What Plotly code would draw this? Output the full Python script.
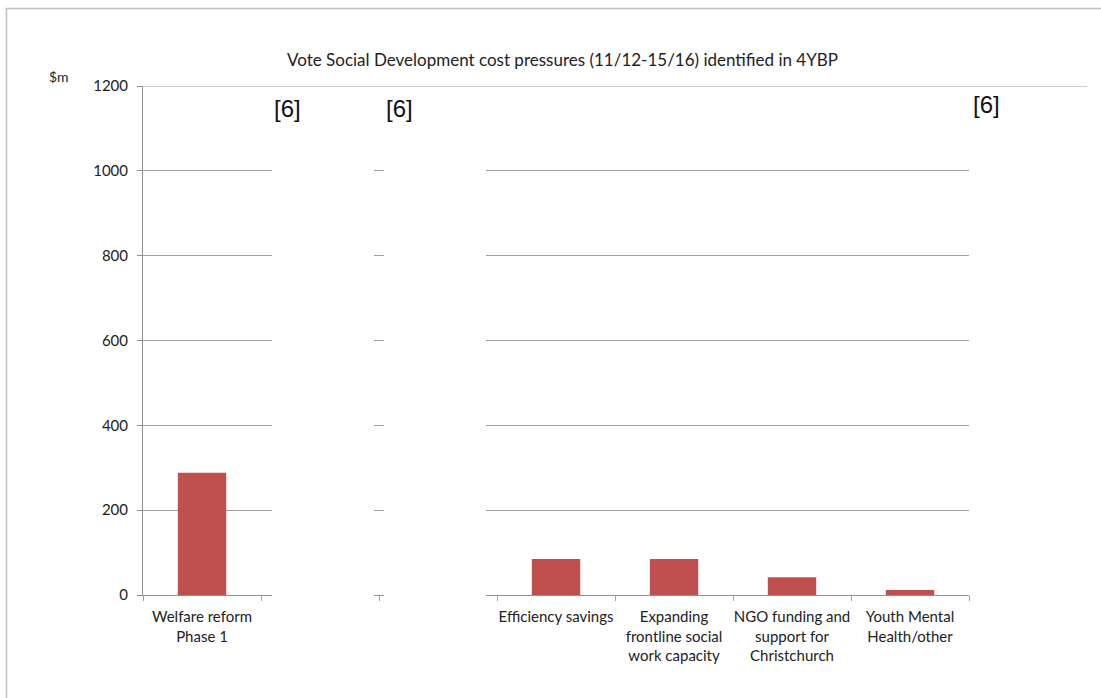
import plotly.graph_objects as go

categories = [
    "Welfare reform<br>Phase 1",
    " ",
    "  ",
    "Efficiency savings",
    "Expanding<br>frontline social<br>work capacity",
    "NGO funding and<br>support for<br>Christchurch",
    "Youth Mental<br>Health/other",
]
values = [288, None, None, 85, 85, 42, 12]

W, H = 1101, 698
L, R, T, B = 143, 969, 86, 595


def px(x):
    return (x - L) / (R - L)


def py(y):
    return (B - y) / (B - T)


fig = go.Figure()
fig.add_trace(go.Bar(x=categories, y=values, marker_color="#C0504D",
                     marker_line_width=0, width=0.41))

shapes = [
    # redaction blocks
    dict(type="rect", xref="paper", yref="paper", x0=px(272), x1=px(374), y0=py(690), y1=py(88),
         fillcolor="white", line_width=0, layer="above"),
    dict(type="rect", xref="paper", yref="paper", x0=px(384), x1=px(486), y0=py(690), y1=py(88),
         fillcolor="white", line_width=0, layer="above"),
    # top line at 1200, extended to the right
    dict(type="line", xref="paper", yref="y", x0=0, x1=px(1087), y0=1200, y1=1200,
         line=dict(color="#A0A0A0", width=1)),
    # outer border
    dict(type="line", xref="paper", yref="paper", x0=px(6.5), x1=px(6.5), y0=py(698), y1=py(8),
         line=dict(color="#BFBFBF", width=1.5)),
    dict(type="line", xref="paper", yref="paper", x0=px(6), x1=px(1101), y0=py(8.5), y1=py(8.5),
         line=dict(color="#BFBFBF", width=1.5)),
]

annotations = [
    dict(text="$m", xref="paper", yref="paper", x=px(59), y=py(76), xanchor="center",
         yanchor="middle", showarrow=False,
         font=dict(family="Lato", size=14, color="#222")),
    dict(text="[6]", xref="paper", yref="paper", x=px(287), y=py(108), xanchor="center",
         yanchor="middle", showarrow=False,
         font=dict(family="Liberation Sans", size=24, color="#111")),
    dict(text="[6]", xref="paper", yref="paper", x=px(399), y=py(108), xanchor="center",
         yanchor="middle", showarrow=False,
         font=dict(family="Liberation Sans", size=24, color="#111")),
    dict(text="[6]", xref="paper", yref="paper", x=px(986), y=py(104), xanchor="center",
         yanchor="middle", showarrow=False,
         font=dict(family="Liberation Sans", size=24, color="#111")),
]

fig.update_layout(
    width=W, height=H,
    margin=dict(l=L, r=W - R, t=T, b=H - B),
    paper_bgcolor="white", plot_bgcolor="white",
    showlegend=False,
    title=dict(text="Vote Social Development cost pressures (11/12-15/16) identified in 4YBP",
               x=px(565), xanchor="center", y=1 - 60 / H, yanchor="middle",
               font=dict(family="Lato", size=17, color="#222")),
    font=dict(family="Lato", size=15, color="#222"),
    shapes=shapes,
    annotations=annotations,
    bargap=0.59,
)
fig.update_xaxes(type="category", tickson="boundaries", ticks="outside", ticklen=5,
                 tickcolor="#A0A0A0", showline=True, linecolor="#909090", linewidth=1,
                 showgrid=False, tickfont=dict(family="Lato", size=15, color="#222"),
                 tickangle=0, ticklabelstandoff=8)
fig.update_yaxes(range=[0, 1200], dtick=200, ticks="outside", ticklen=5, tickcolor="#909090",
                 showline=True, linecolor="#909090", linewidth=1,
                 showgrid=True, gridcolor="#A0A0A0", gridwidth=1, zeroline=False,
                 tickfont=dict(family="Lato", size=15, color="#222"), ticklabelstandoff=6)

fig.write_html("out.html")
